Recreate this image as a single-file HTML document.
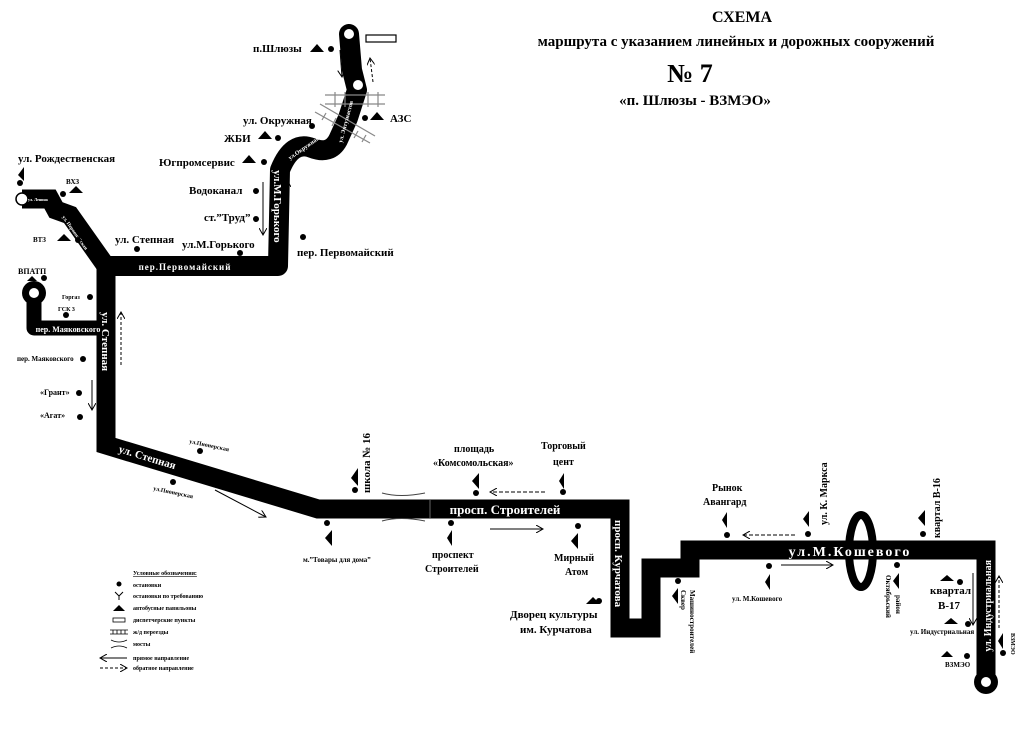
<!DOCTYPE html>
<html><head><meta charset="utf-8"><style>
body{margin:0;background:#fff}
svg{display:block}
text{font-family:"Liberation Serif",serif;font-weight:bold;fill:#000}
</style></head><body>
<svg width="1024" height="732" viewBox="0 0 1024 732" xmlns="http://www.w3.org/2000/svg">
<defs>
<marker id="ah" markerWidth="8" markerHeight="8" refX="7" refY="4" orient="auto"><path d="M0,0 L7,4 L0,8" fill="none" stroke="#000" stroke-width="1"/></marker>
</defs>
<!-- Title -->
<text x="742" y="22" font-size="16" text-anchor="middle">СХЕМА</text>
<text x="736" y="46" font-size="15" text-anchor="middle">маршрута с указанием линейных и дорожных сооружений</text>
<text x="690" y="82" font-size="26" text-anchor="middle">№ 7</text>
<text x="695" y="105" font-size="15" text-anchor="middle">«п. Шлюзы - ВЗМЭО»</text>

<!-- Route bars -->
<g fill="none" stroke="#000" stroke-linejoin="round">
<path d="M349,34 L352,70 L357,90 L348,118 L338,140 Q330,155 312,148 Q292,140 280,170 L278,266 L106,266" stroke-width="20" stroke-linecap="round"/>
<path d="M22,199 L50,199 L56,210 L70,215 L106,266 L106,445 L318,509 L620,509 L620,628 L651,628 L651,568 L690,568 L690,550 L986,550 L986,682" stroke-width="19" stroke-linejoin="miter"/>
<path d="M34,293 L34,328 L106,328" stroke-width="15" stroke-linejoin="round"/>
<ellipse cx="861" cy="551" rx="12" ry="36" stroke-width="8"/>
</g>
<circle cx="349" cy="34" r="5" fill="#fff"/>
<circle cx="358" cy="85" r="5" fill="#fff"/>
<circle cx="22" cy="199" r="6" fill="#fff" stroke="#000" stroke-width="1.5"/>
<circle cx="34" cy="293" r="12" fill="#000"/><circle cx="34" cy="293" r="5" fill="#fff"/>
<circle cx="986" cy="682" r="12" fill="#000"/><circle cx="986" cy="682" r="5" fill="#fff"/>
<line x1="430" y1="500" x2="430" y2="518" stroke="#666" stroke-width="1"/>

<!-- Dispatch rectangle -->
<rect x="366" y="35" width="30" height="7" fill="#fff" stroke="#000" stroke-width="1.2"/>

<!-- Railway crossings -->
<g stroke="#888" stroke-width="1.2" fill="none">
<line x1="325" y1="95" x2="385" y2="95"/><line x1="325" y1="104" x2="385" y2="104"/>
<line x1="335" y1="92" x2="335" y2="107"/><line x1="345" y1="92" x2="345" y2="107"/><line x1="368" y1="92" x2="368" y2="107"/><line x1="378" y1="92" x2="378" y2="107"/>
<line x1="315" y1="112" x2="370" y2="143"/><line x1="320" y1="104" x2="375" y2="136"/>
<line x1="326" y1="113" x2="322" y2="120"/><line x1="336" y1="118" x2="332" y2="126"/><line x1="358" y1="131" x2="354" y2="138"/><line x1="366" y1="135" x2="362" y2="142"/>
</g>
<!-- Bridges -->
<g stroke="#444" stroke-width="1" fill="none">
<path d="M382,493 Q400,498 425,493"/><path d="M382,521 Q400,516 425,521"/>
</g>

<!-- Street labels on bars -->
<g>
<text x="185" y="270" font-size="9" text-anchor="middle" style="fill:#fff" letter-spacing="1">пер.Первомайский</text>
<text x="505" y="514" font-size="13" text-anchor="middle" style="fill:#fff">просп. Строителей</text>
<text x="850" y="556" font-size="14" text-anchor="middle" style="fill:#fff" letter-spacing="2">ул.М.Кошевого</text>
<text x="68" y="332" font-size="8" text-anchor="middle" style="fill:#fff">пер. Маяковского</text>
<text transform="translate(102,312) rotate(90)" font-size="11" style="fill:#fff">ул. Степная</text>
<text transform="translate(274,170) rotate(90)" font-size="11" style="fill:#fff">ул.М.Горького</text>
<text transform="translate(615,520) rotate(90)" font-size="11" style="fill:#fff">просп. Курчатова</text>
<text transform="translate(991,560) rotate(-90)" font-size="10" text-anchor="end" style="fill:#fff">ул. Индустриальная</text>
<text transform="translate(118,452) rotate(17)" font-size="11" style="fill:#fff">ул. Степная</text>
<text transform="translate(290,160) rotate(-35)" font-size="6" style="fill:#fff">ул.Окружная</text>
<text transform="translate(342,143) rotate(-75)" font-size="6" style="fill:#fff">ул. Энтузиастов</text>
<text transform="translate(62,217) rotate(55)" font-size="5" style="fill:#fff">ул. Первомайская</text>
<text x="28" y="201" font-size="4" style="fill:#fff">ул. Ленина</text>
</g>

<!-- Direction arrows -->
<g stroke="#000" stroke-width="1" fill="none">
<line x1="340" y1="50" x2="342" y2="77" marker-end="url(#ah)"/>
<line x1="373" y1="82" x2="370" y2="58" stroke-dasharray="3,2" marker-end="url(#ah)"/>
<line x1="263" y1="182" x2="263" y2="235" marker-end="url(#ah)"/>
<line x1="287" y1="240" x2="287" y2="180" stroke-dasharray="3,2" marker-end="url(#ah)"/>
<line x1="121" y1="365" x2="121" y2="312" stroke-dasharray="3,2" marker-end="url(#ah)"/>
<line x1="92" y1="380" x2="92" y2="410" marker-end="url(#ah)"/>
<line x1="215" y1="490" x2="266" y2="517" marker-end="url(#ah)"/>
<line x1="545" y1="492" x2="490" y2="492" stroke-dasharray="4,2" marker-end="url(#ah)"/>
<line x1="490" y1="529" x2="543" y2="529" marker-end="url(#ah)"/>
<line x1="795" y1="535" x2="743" y2="535" stroke-dasharray="4,2" marker-end="url(#ah)"/>
<line x1="781" y1="565" x2="833" y2="565" marker-end="url(#ah)"/>
<line x1="973" y1="573" x2="973" y2="625" marker-end="url(#ah)"/>
<line x1="999" y1="628" x2="999" y2="576" stroke-dasharray="3,2" marker-end="url(#ah)"/>
</g>

<!-- Stops (dots) -->
<g fill="#000">
<circle cx="331" cy="49" r="3"/><circle cx="365" cy="118" r="3"/><circle cx="312" cy="126" r="3"/>
<circle cx="278" cy="138" r="3"/><circle cx="264" cy="162" r="3"/><circle cx="256" cy="191" r="3"/>
<circle cx="256" cy="219" r="3"/><circle cx="303" cy="237" r="3"/><circle cx="240" cy="253" r="3"/>
<circle cx="137" cy="249" r="3"/><circle cx="20" cy="183" r="3"/><circle cx="63" cy="194" r="3"/>
<circle cx="78" cy="240" r="3"/><circle cx="44" cy="278" r="3"/><circle cx="90" cy="297" r="3"/>
<circle cx="66" cy="315" r="3"/><circle cx="83" cy="359" r="3"/><circle cx="79" cy="393" r="3"/>
<circle cx="80" cy="417" r="3"/><circle cx="200" cy="451" r="3"/><circle cx="173" cy="482" r="3"/>
<circle cx="355" cy="490" r="3"/><circle cx="327" cy="523" r="3"/><circle cx="476" cy="493" r="3"/>
<circle cx="451" cy="523" r="3"/><circle cx="563" cy="492" r="3"/><circle cx="578" cy="526" r="3"/>
<circle cx="599" cy="601" r="3"/><circle cx="678" cy="581" r="3"/><circle cx="727" cy="535" r="3"/>
<circle cx="808" cy="534" r="3"/><circle cx="769" cy="566" r="3"/><circle cx="897" cy="565" r="3"/>
<circle cx="923" cy="534" r="3"/><circle cx="960" cy="582" r="3"/><circle cx="968" cy="624" r="3"/>
<circle cx="967" cy="656" r="3"/><circle cx="1003" cy="653" r="3"/>
</g>

<!-- Pavilions -->
<g fill="#000">
<polygon points="310,52 317,44 324,52"/><polygon points="370,120 377,112 384,120"/>
<polygon points="258,139 265,131 272,139"/><polygon points="242,163 249,155 256,163"/>
<polygon points="69,193 76,186 83,193"/><polygon points="57,241 64,234 71,241"/>
<polygon points="27,281 32,276 37,281"/><polygon points="586,604 593,597 600,604"/>
<polygon points="940,581 947,575 954,581"/><polygon points="944,624 951,618 958,624"/>
<polygon points="941,657 947,651 953,657"/>
<polygon points="18,175 24,167 24,181"/><polygon points="351,478 358,468 358,486"/>
<polygon points="325,538 332,530 332,546"/><polygon points="472,481 479,473 479,489"/>
<polygon points="447,538 452,530 452,546"/><polygon points="559,481 564,473 564,489"/>
<polygon points="571,541 578,533 578,549"/><polygon points="722,520 727,512 727,528"/>
<polygon points="803,519 809,511 809,527"/><polygon points="765,582 770,574 770,590"/>
<polygon points="893,581 899,573 899,589"/><polygon points="918,518 925,510 925,526"/>
<polygon points="672,596 678,588 678,604"/><polygon points="998,641 1003,633 1003,649"/>
</g>

<!-- Labels -->
<g font-size="11">
<text x="253" y="52">п.Шлюзы</text>
<text x="390" y="122">АЗС</text>
<text x="243" y="124">ул. Окружная</text>
<text x="224" y="142">ЖБИ</text>
<text x="159" y="166">Югпромсервис</text>
<text x="189" y="194">Водоканал</text>
<text x="204" y="221">ст.”Труд”</text>
<text x="182" y="248">ул.М.Горького</text>
<text x="115" y="243">ул. Степная</text>
<text x="297" y="256">пер. Первомайский</text>
<text x="18" y="162">ул. Рождественская</text>
<text x="66" y="184" font-size="7">ВХЗ</text>
<text x="33" y="242" font-size="7">ВТЗ</text>
<text x="18" y="274" font-size="8">ВПАТП</text>
<text x="62" y="299" font-size="6">Горгаз</text>
<text x="58" y="311" font-size="6">ГСК 3</text>
<text x="17" y="361" font-size="7">пер. Маяковского</text>
<text x="40" y="395" font-size="8">«Грант»</text>
<text x="40" y="418" font-size="8">«Агат»</text>
<text transform="translate(189,443) rotate(12)" font-size="6">ул.Пионерская</text>
<text transform="translate(153,490) rotate(12)" font-size="6">ул.Пионерская</text>
<text transform="translate(370,493) rotate(-90)">школа № 16</text>
<text x="454" y="452" font-size="10">площадь</text>
<text x="433" y="466" font-size="10">«Комсомольская»</text>
<text x="541" y="449" font-size="10">Торговый</text>
<text x="553" y="465" font-size="10">цент</text>
<text x="303" y="562" font-size="7">м.”Товары для дома”</text>
<text x="432" y="558" font-size="10">проспект</text>
<text x="425" y="572" font-size="10">Строителей</text>
<text x="554" y="561" font-size="10">Мирный</text>
<text x="565" y="575" font-size="10">Атом</text>
<text x="510" y="618" font-size="11">Дворец культуры</text>
<text x="520" y="633" font-size="11">им. Курчатова</text>
<text x="712" y="491" font-size="10">Рынок</text>
<text x="703" y="505" font-size="10">Авангард</text>
<text transform="translate(827,525) rotate(-90)" font-size="10">ул. К. Маркса</text>
<text transform="translate(940,538) rotate(-90)" font-size="10">квартал В-16</text>
<text x="732" y="601" font-size="7">ул. М.Кошевого</text>
<text transform="translate(681,590) rotate(90)" font-size="7">Сквер</text>
<text transform="translate(690,590) rotate(90)" font-size="7">Машиностроителей</text>
<text transform="translate(886,575) rotate(90)" font-size="7">Октябрьский</text>
<text transform="translate(896,595) rotate(90)" font-size="7">район</text>
<text x="930" y="594" font-size="11">квартал</text>
<text x="938" y="609" font-size="11">В-17</text>
<text x="910" y="634" font-size="7">ул. Индустриальная</text>
<text x="945" y="667" font-size="7">ВЗМЭО</text>
<text transform="translate(1011,633) rotate(90)" font-size="6">ВЗМЭО</text>
</g>

<!-- Legend -->
<g font-size="6">
<text x="133" y="575" text-decoration="underline">Условные обозначения:</text>
<circle cx="119" cy="584" r="2.5"/><text x="133" y="587">остановки</text>
<path d="M115,592 L119,596 L123,592 M119,596 L119,600" stroke="#000" fill="none" stroke-width="1"/><text x="133" y="598">остановки по требованию</text>
<polygon points="113,611 119,605 125,611"/><text x="133" y="610">автобусные павильоны</text>
<rect x="113" y="618" width="12" height="4" fill="#fff" stroke="#000" stroke-width="0.8"/><text x="133" y="622">диспетчерские пункты</text>
<path d="M110,630 L128,630 M110,634 L128,634 M113,630 L113,634 M117,630 L117,634 M121,630 L121,634 M125,630 L125,634" stroke="#000" stroke-width="0.8"/><text x="133" y="634">ж/д переезды</text>
<path d="M111,640 Q119,644 127,640 M111,648 Q119,644 127,648" stroke="#000" fill="none" stroke-width="0.8"/><text x="133" y="646">мосты</text>
<line x1="127" y1="658" x2="100" y2="658" stroke="#000" stroke-width="1" marker-end="url(#ah)"/><text x="133" y="660">прямое направление</text>
<line x1="100" y1="668" x2="127" y2="668" stroke="#000" stroke-width="1" stroke-dasharray="3,2" marker-end="url(#ah)"/><text x="133" y="670">обратное направление</text>
</g>
</svg>
</body></html>
